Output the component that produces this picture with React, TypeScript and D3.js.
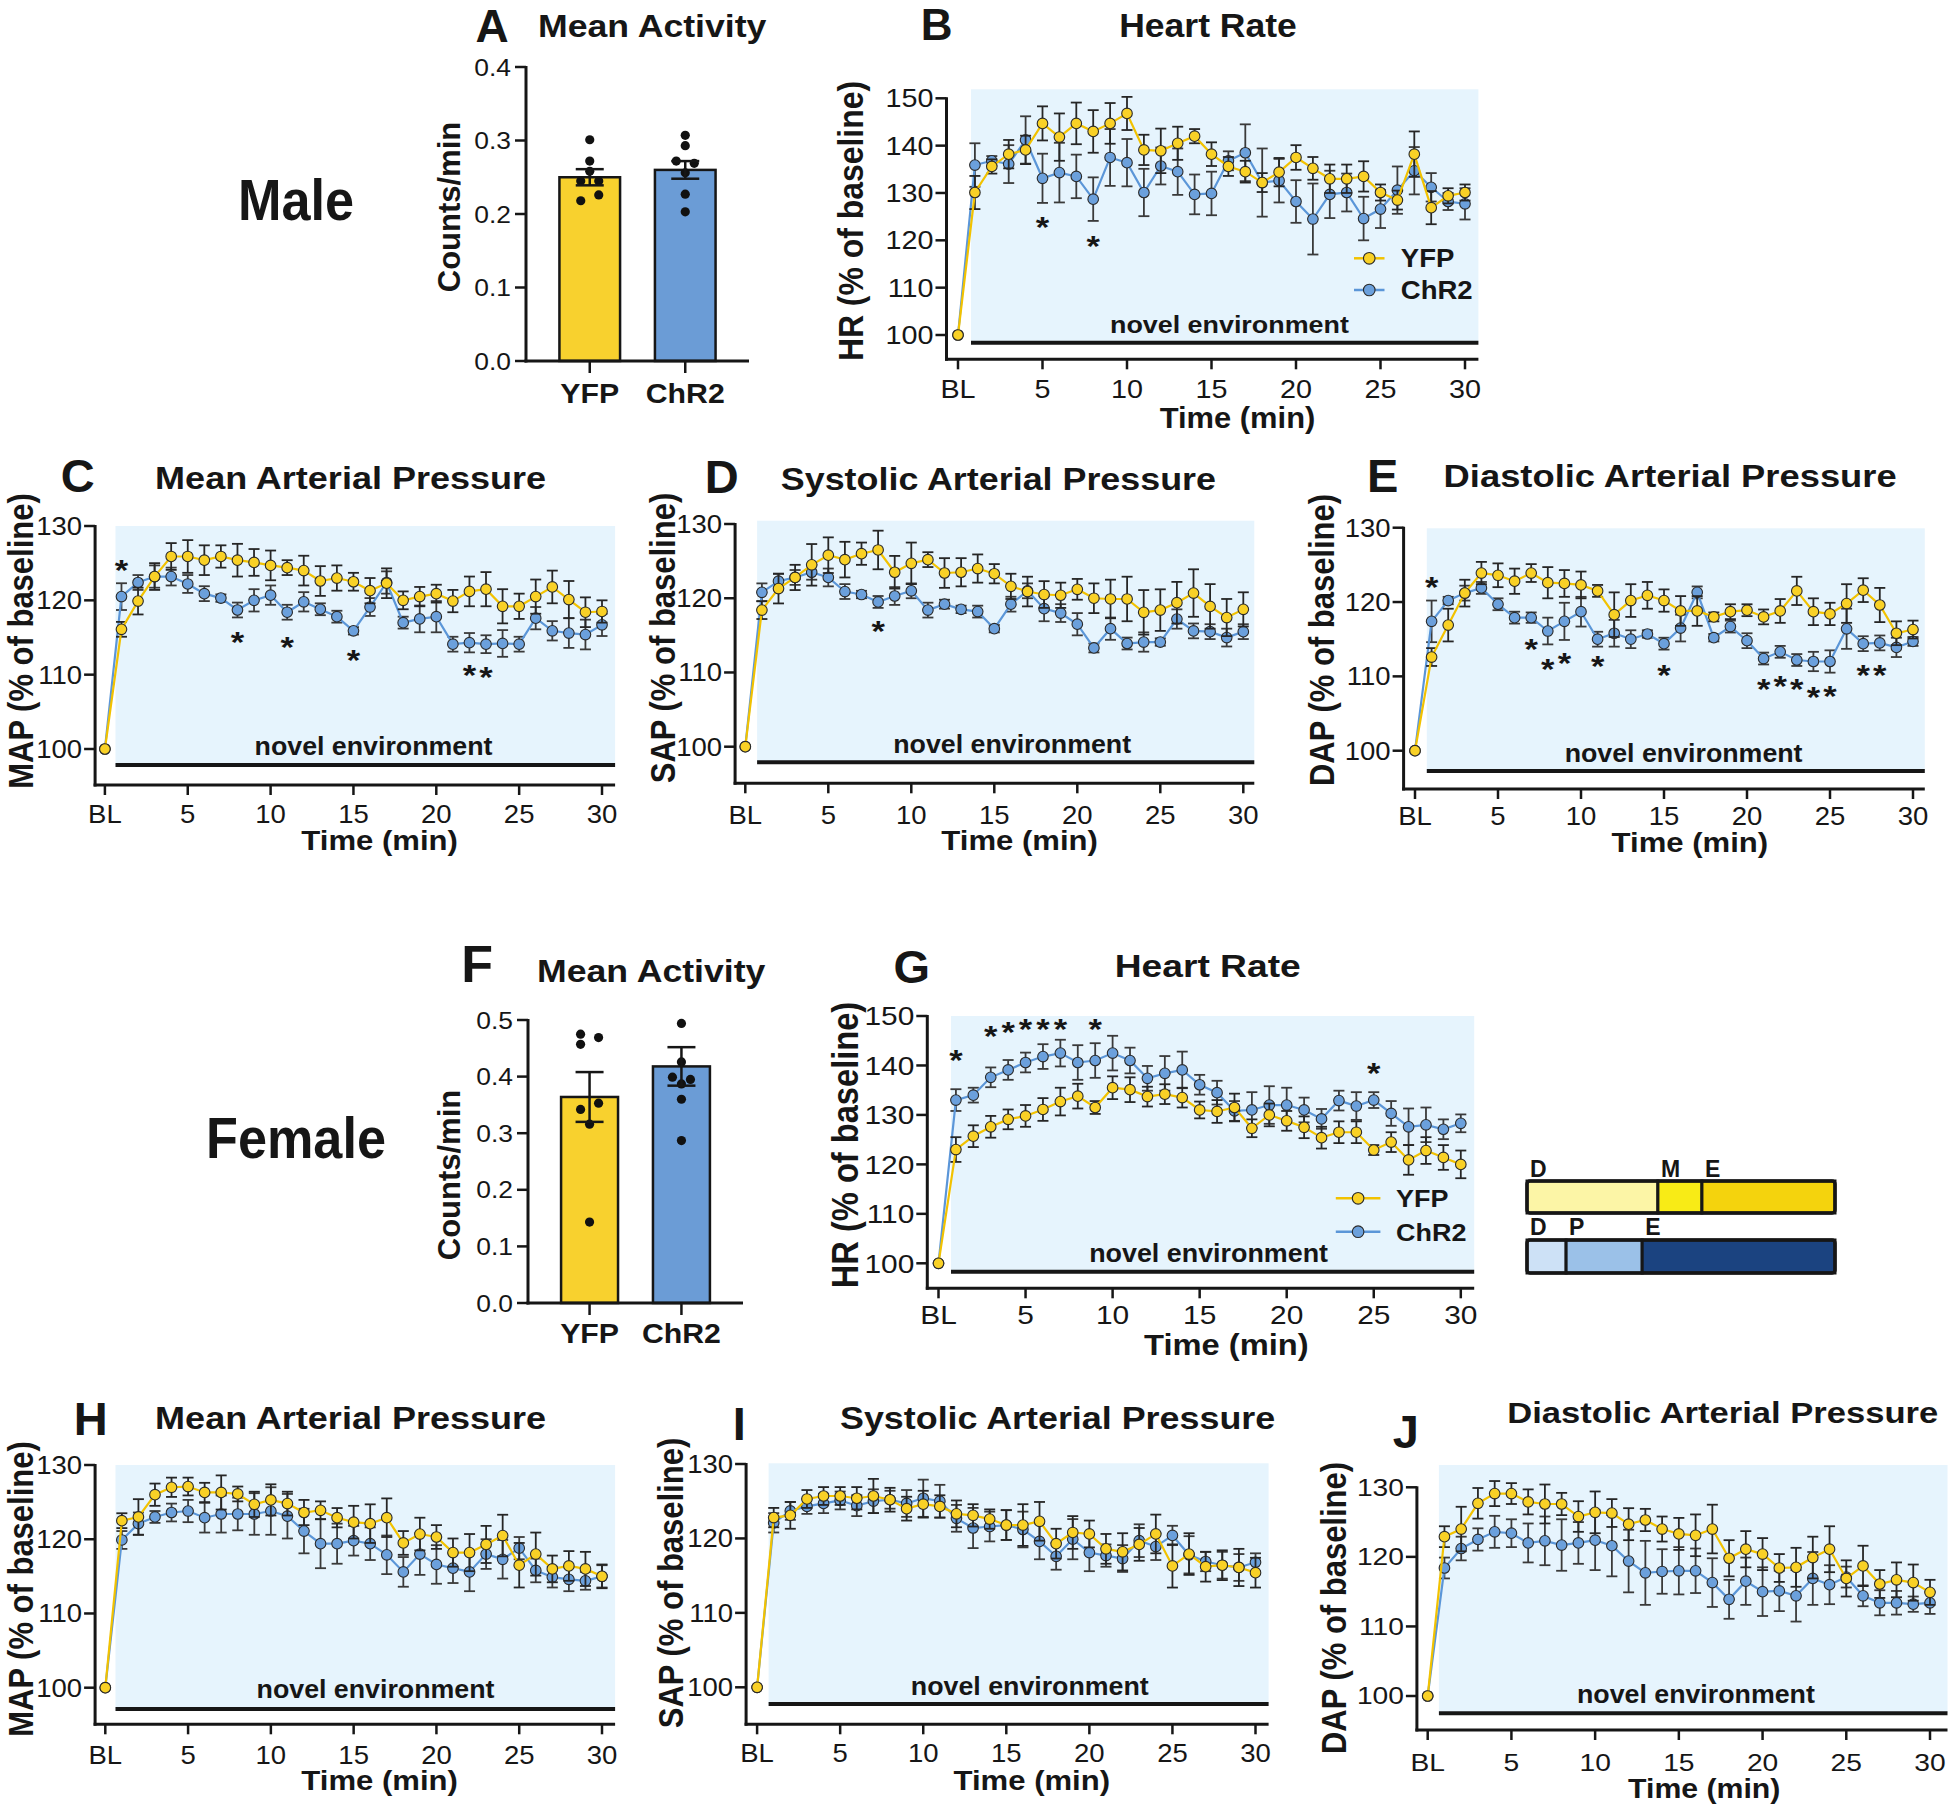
import React from 'react';
import * as d3 from 'd3';

const FONT = "'Liberation Sans', Arial, Helvetica, sans-serif";
const INK = '#161616';
const SHADE = '#E6F4FD';
const YFP_LINE = '#F2C200';
const YFP_FILL = '#F9D126';
const CHR_LINE = '#5B96D8';
const CHR_FILL = '#6BA0DC';
const YFP_BAR = '#F8D12E';
const CHR_BAR = '#6B9CD6';

// ---------- categories / ticks ----------
const MINUTES = d3.range(0, 31); // 0 = BL
const X_TICKS = [0, 5, 10, 15, 20, 25, 30];
const X_TICK_LABELS = ['BL', '5', '10', '15', '20', '25', '30'];
const HR_TICKS = [100, 110, 120, 130, 140, 150];
const BP_TICKS = [100, 110, 120, 130];
const GROUPS = ['YFP', 'ChR2'];

// ---------- Male activity (A) ----------
const A_TICKS = [0, 0.1, 0.2, 0.3, 0.4];
const A_MEANS = [0.25, 0.26];
const A_SEMS = [0.011, 0.012];
const A_YFP_DOTS = [0.301, 0.272, 0.258, 0.245, 0.245, 0.226, 0.218];
const A_CHR_DOTS = [0.307, 0.293, 0.272, 0.269, 0.256, 0.227, 0.203];

// ---------- Female activity (F) ----------
const F_TICKS = [0, 0.1, 0.2, 0.3, 0.4, 0.5];
const F_MEANS = [0.364, 0.418];
const F_SEMS = [0.044, 0.034];
const F_YFP_DOTS = [0.475, 0.457, 0.469, 0.342, 0.353, 0.316, 0.143];
const F_CHR_DOTS = [0.494, 0.426, 0.399, 0.395, 0.387, 0.36, 0.287];

// ---------- Male HR (B) ----------
const M_HR_YFP = [100, 130.1, 135.6, 138.2, 139.1, 144.7, 141.8, 144.7, 143.0, 144.7, 146.8, 139.1, 138.9, 140.5, 142.0, 138.2, 135.6, 134.5, 132.2, 134.4, 137.5, 135.2, 133.0, 133.0, 133.5, 130.1, 128.5, 138.2, 126.9, 129.4, 130.1];
const M_HR_YFP_ERR = [0, 3.5, 1.5, 3, 3, 3.6, 5, 4.4, 4.5, 4.3, 3.5, 3.2, 4.7, 3.5, 1.5, 2.5, 2, 2.3, 2, 3, 2.6, 2.4, 3, 3, 3.2, 1.7, 2, 4.8, 3.5, 1.6, 1.7];
const M_HR_CHR = [100, 135.9, 136.8, 136.1, 141.2, 133.1, 134.3, 133.5, 128.7, 137.5, 136.4, 130.1, 135.7, 134.5, 129.7, 129.9, 136.8, 138.5, 132.2, 132.6, 128.2, 124.5, 129.7, 130.1, 124.6, 126.6, 130.6, 134.7, 131.2, 128.2, 127.7];
const M_HR_CHR_ERR = [0, 4.6, 1, 4, 5, 5.2, 6.3, 4.6, 4.6, 6, 5, 5, 3.9, 4.9, 4.2, 4.6, 2, 6, 7.2, 4.6, 4.5, 7.5, 5, 4, 4.6, 4, 5, 5, 3, 1.8, 3.3];
const M_HR_STARS: [number, number][] = [[5, 124.3], [8, 120.4]];

// ---------- Male MAP (C) ----------
const M_MAP_YFP = [100, 116.1, 119.9, 123.2, 125.9, 125.9, 125.4, 125.9, 125.4, 125.1, 124.7, 124.4, 124.0, 122.6, 123.0, 122.5, 121.3, 122.3, 120.0, 120.5, 120.9, 119.9, 121.2, 121.5, 119.2, 119.2, 120.5, 121.8, 120.1, 118.4, 118.5];
const M_MAP_YFP_ERR = [0, 1, 1.8, 1.8, 1.8, 2.2, 2, 1.5, 2.2, 1.8, 2, 1, 2, 2, 1.7, 1.2, 1.7, 2, 1.2, 1.3, 1.2, 1.5, 2, 2.3, 2.3, 1.7, 2.3, 2.2, 2.5, 2, 1.5];
const M_MAP_CHR = [100, 120.5, 122.4, 123.2, 123.2, 122.2, 120.9, 120.3, 118.7, 120.0, 120.7, 118.4, 119.8, 118.8, 117.8, 115.9, 119.1, 122.4, 117.0, 117.5, 117.8, 114.1, 114.3, 114.1, 114.2, 114.1, 117.6, 115.9, 115.6, 115.4, 116.7];
const M_MAP_CHR_ERR = [0, 1.8, 1, 1.5, 1.2, 1.2, 1, 0.5, 1, 1.5, 1.3, 1, 1.3, 0.8, 0.8, 0.5, 1.2, 1.5, 0.8, 1.8, 2.1, 1, 1.3, 1.2, 1.8, 1, 1.5, 1.3, 2, 2, 1.5];
const M_MAP_STARS: [number, number][] = [[1, 125.0], [8, 115.4], [11, 114.7], [15, 112.9], [22, 110.9], [23, 110.6]];

// ---------- Male SAP (D) ----------
const M_SAP_YFP = [100, 118.4, 121.3, 122.8, 124.5, 125.8, 125.2, 126.0, 126.5, 123.5, 124.7, 125.2, 123.4, 123.5, 124.0, 123.3, 121.6, 120.9, 120.5, 120.4, 121.2, 120.0, 119.9, 119.9, 118.1, 118.4, 119.4, 120.7, 118.9, 117.4, 118.5];
const M_SAP_YFP_ERR = [0, 1.2, 2, 1.7, 2.8, 2.4, 2.4, 1.5, 2.6, 2.2, 2.8, 1, 2, 1.9, 1.9, 1.3, 1.7, 2, 1.8, 1.7, 1.4, 2, 2.6, 3, 3, 2.8, 2.8, 3.2, 3, 2.5, 2.3];
const M_SAP_CHR = [100, 120.8, 122.3, 122.8, 123.5, 122.8, 120.9, 120.5, 119.5, 120.3, 121.0, 118.4, 119.2, 118.5, 118.2, 115.9, 119.2, 121.0, 118.6, 118.0, 116.5, 113.3, 115.9, 113.9, 114.1, 114.1, 117.2, 115.6, 115.5, 114.7, 115.5];
const M_SAP_CHR_ERR = [0, 1.2, 1, 1, 1, 1.2, 1, 0.5, 0.8, 1.2, 1, 1, 0.6, 0.5, 0.8, 0.5, 1, 1, 1.7, 1.2, 1.5, 0.6, 1.5, 0.8, 1.3, 0.5, 1.3, 1, 1, 1.2, 1];
const M_SAP_STARS: [number, number][] = [[8, 116.6]];

// ---------- Male DAP (E) ----------
const M_DAP_YFP = [100, 112.6, 116.9, 121.2, 123.9, 123.6, 122.8, 123.9, 122.6, 122.5, 122.3, 121.5, 118.3, 120.2, 120.9, 120.2, 118.8, 118.8, 118.0, 118.7, 118.9, 118.0, 118.8, 121.5, 118.7, 118.4, 119.8, 121.6, 119.6, 115.8, 116.3];
const M_DAP_YFP_ERR = [0, 1.2, 2.2, 1.8, 1.5, 1.6, 1.7, 1.2, 2.1, 1.8, 1.8, 0.8, 3, 2.2, 1.8, 1.5, 2, 2, 0.6, 1, 0.8, 1, 1.6, 1.9, 1.8, 1.5, 2.6, 1.6, 2.3, 1.6, 1.2];
const M_DAP_CHR = [100, 117.4, 120.2, 121.2, 121.9, 119.7, 117.9, 117.9, 116.1, 117.4, 118.7, 115.0, 115.8, 115.0, 115.7, 114.4, 116.5, 121.3, 115.2, 116.7, 114.8, 112.4, 113.3, 112.2, 112.0, 112.0, 116.4, 114.4, 114.5, 113.9, 114.7];
const M_DAP_CHR_ERR = [0, 2.8, 0.5, 1, 0.8, 0.8, 0.8, 0.7, 1.8, 2.5, 2, 1, 1.8, 1.2, 0.5, 0.8, 1.8, 0.8, 0.5, 0.8, 1, 0.8, 0.8, 0.8, 1.3, 1.5, 2.7, 1, 1, 1.3, 0.6];
const M_DAP_STARS: [number, number][] = [[1, 123.0], [7, 114.6], [8, 112.0], [9, 112.7], [11, 112.3], [15, 111.1], [21, 109.3], [22, 109.7], [23, 109.3], [24, 108.2], [25, 108.3], [27, 111.1], [28, 111.1]];

// ---------- Female HR (G) ----------
const F_HR_YFP = [100, 123.0, 125.7, 127.6, 129.1, 129.8, 131.1, 132.7, 133.8, 131.5, 135.5, 135.1, 133.7, 134.2, 133.5, 131.0, 130.7, 131.5, 127.3, 130.0, 128.8, 127.5, 125.4, 126.5, 126.5, 122.9, 124.5, 120.9, 122.8, 121.4, 120.0];
const F_HR_YFP_ERR = [0, 2.5, 2.2, 2.2, 2, 2.2, 2.3, 2.8, 2.5, 1.3, 2.3, 2.5, 2, 2, 2, 1.7, 2.3, 2.8, 1.8, 2.3, 2, 2.2, 2.2, 2.2, 2.2, 1, 2, 3, 2.7, 2.5, 2.8];
const F_HR_CHR = [100, 133.0, 134.0, 137.6, 139.1, 140.6, 141.8, 142.5, 140.6, 141.0, 142.5, 141.0, 137.4, 138.4, 139.1, 136.1, 134.5, 130.8, 131.0, 132.0, 132.0, 131.0, 129.2, 132.9, 131.8, 133.0, 130.3, 127.6, 128.0, 127.1, 128.3];
const F_HR_CHR_ERR = [0, 2.2, 1.5, 2, 2, 2, 2.5, 2.7, 3.5, 3.5, 3.5, 2.6, 2.5, 3.5, 3.7, 2, 2.4, 2, 3.6, 3.8, 3.5, 2.5, 2, 2, 2.8, 1.6, 2.5, 3.7, 3.5, 2, 1.8];
const F_HR_STARS: [number, number][] = [[1, 142.6], [3, 147.3], [4, 148.2], [5, 148.9], [6, 148.9], [7, 148.9], [9, 148.9], [25, 139.9]];

// ---------- Female MAP (H) ----------
const F_MAP_YFP = [100, 122.5, 123.0, 126.0, 127.0, 127.1, 126.3, 126.3, 126.1, 124.7, 125.3, 124.8, 123.6, 123.9, 122.9, 122.3, 122.1, 122.9, 119.5, 120.7, 120.3, 118.2, 118.2, 119.3, 120.5, 116.5, 118.0, 116.0, 116.4, 116.0, 115.0];
const F_MAP_YFP_ERR = [0, 1, 2.4, 1.5, 1.3, 1.2, 1.3, 2.3, 1, 1.7, 2.1, 1.6, 1.7, 1.2, 1.3, 2.2, 2.6, 2.6, 1.6, 2.2, 1.6, 1.9, 2.5, 2.5, 2.8, 3, 2.9, 1.8, 2, 2.3, 1.6];
const F_MAP_CHR = [100, 119.9, 122.1, 123.0, 123.6, 123.8, 122.9, 123.4, 123.4, 123.4, 123.8, 123.1, 121.1, 119.4, 119.4, 119.8, 119.4, 117.9, 115.6, 118.0, 116.6, 116.1, 115.6, 118.0, 117.3, 118.8, 115.8, 114.9, 114.6, 114.4, 115.0];
const F_MAP_CHR_ERR = [0, 1.2, 1.5, 0.8, 1.2, 1.5, 2, 2.5, 2.2, 2.8, 3.2, 3, 3, 3.3, 2.7, 2, 2.2, 2.6, 2, 2.8, 2.6, 2, 2.6, 2, 2.6, 1.5, 1.6, 1.4, 1.6, 1.2, 1.5];

// ---------- Female SAP (I) ----------
const F_SAP_YFP = [100, 122.8, 123.1, 125.3, 125.7, 125.7, 125.4, 125.7, 125.2, 124.0, 124.6, 124.3, 123.3, 123.1, 122.6, 121.8, 121.8, 122.3, 119.3, 120.8, 120.6, 118.6, 118.2, 119.2, 120.6, 116.3, 117.9, 116.2, 116.4, 116.1, 115.4];
const F_SAP_YFP_ERR = [0, 1.3, 1.8, 1.2, 1.2, 1.2, 1.5, 2.3, 1.6, 1.6, 1.8, 1.5, 1.8, 1.5, 1.3, 2, 2.8, 2.6, 2, 2.2, 1.8, 2, 2.5, 2.2, 2.6, 2.9, 2.8, 2, 2, 2.5, 2];
const F_SAP_CHR = [100, 122.1, 123.7, 124.3, 124.7, 125.1, 124.4, 125.0, 125.2, 124.7, 125.4, 125.0, 122.7, 121.4, 121.6, 121.8, 121.2, 119.6, 117.6, 119.9, 118.1, 117.7, 117.3, 119.7, 118.9, 120.4, 117.8, 116.9, 116.4, 116.1, 116.8];
const F_SAP_CHR_ERR = [0, 1.3, 1.2, 1, 1.3, 1.2, 1.4, 1.6, 1.2, 1.8, 2.5, 2.2, 1.8, 2.7, 2, 2, 2.4, 2.4, 1.8, 2.7, 2.5, 1.5, 1.8, 2.2, 1.8, 1.3, 2.5, 1.3, 1.8, 1.8, 1.2];

// ---------- Female DAP (J) ----------
const F_DAP_YFP = [100, 122.9, 124.0, 127.7, 129.1, 129.1, 127.9, 127.6, 127.6, 125.8, 126.4, 126.3, 124.7, 125.3, 124.0, 123.3, 123.1, 124.0, 119.8, 121.1, 120.4, 118.4, 118.5, 119.9, 121.1, 116.9, 118.7, 116.1, 116.7, 116.3, 114.9];
const F_DAP_YFP_ERR = [0, 1.5, 3.2, 2.2, 1.8, 1.5, 1.8, 2.8, 1.6, 2.2, 3, 2, 2.3, 1.6, 1.8, 2.3, 3, 3.5, 2.6, 2.6, 2.3, 2, 2.8, 3, 3.3, 2.6, 2.9, 2, 2.5, 2.6, 1.8];
const F_DAP_CHR = [100, 118.4, 121.2, 122.5, 123.6, 123.4, 122.0, 122.3, 121.7, 122.0, 122.4, 121.6, 119.4, 117.7, 117.9, 118.0, 118.0, 116.3, 113.9, 116.5, 115.0, 115.1, 114.4, 116.9, 116.0, 117.1, 114.4, 113.4, 113.4, 113.2, 113.4];
const F_DAP_CHR_ERR = [0, 1.5, 1.7, 1.6, 2.3, 2, 2.8, 3.5, 3.7, 3, 4.3, 4.4, 4.5, 4.6, 3.2, 3.4, 3.2, 3.5, 2.8, 3.4, 3.5, 2.9, 3.7, 3.8, 2.8, 1.5, 1.5, 1.8, 1.7, 1.1, 1.6];

// ---------- Phase key ----------
const YFP_PHASES = ['D', 'M', 'E'];
const YFP_PHASE_FRAC = [0.425, 0.143, 0.432];
const CHR_PHASES = ['D', 'P', 'E'];
const CHR_PHASE_FRAC = [0.127, 0.247, 0.626];
const YFP_PHASE_COLORS = ['#FCF5A6', '#F8EB16', '#F4D30D'];
const CHR_PHASE_COLORS = ['#CDE1F6', '#9BC1E8', '#1B4380'];

// ---------- text helper ----------
function T({ x, y, size, sx = 1, sy = 1, anchor = 'start', bold = false, rot = 0, fill = INK, children }: any) {
  return (
    <text
      transform={`translate(${x},${y}) rotate(${rot}) scale(${sx},${sy})`}
      fontFamily={FONT}
      fontSize={size}
      fontWeight={bold ? 700 : 400}
      textAnchor={anchor}
      fill={fill}
    >
      {children}
    </text>
  );
}

const DEF = {
  tickSize: 25, tickSx: 1.1, tickLen: 11, xLabOff: 38,
  envSize: 25.5, envSx: 1.05,
  titleSize: 31.6, titleSx: 1.14, letterSize: 47,
  yLabSize: 31, yLabSx: 1.0, yLabSy: 1.15,
  timeSize: 28, timeSx: 1.11,
  r: 5.3, cap: 5.5, starSize: 30, starSx: 1.15,
  legend: null as any,
};

const L_B = { ...DEF, x0: 958, x30: 1465, axisX: 946.5, p100: 335, pTop: 98.3, yTop: 150, axisBottom: 359.3, shadeL: 971, shadeR: 1478.4, shadeTop: 89.3, envY: 342.7, env: [1229.4, 333], envSize: 24, envSx: 1.12, letter: [936.7, 40], letterSize: 44, title: [1208, 36.7, 'middle'], titleSize: 32.6, titleSx: 1.09, yLab: [863, 221], yLabSx: 1.03, tickSize: 25, tickSx: 1.15, xLabOff: 39, time: [1237.5, 428], timeSize: 30, timeSx: 1.03, legend: { x1: 1354, x2: 1384.5, tx: 1400.8, y1: 258.3, y2: 290, size: 25.5, sx: 1.08 } };
const L_C = { ...DEF, x0: 104.9, x30: 602, axisX: 95.1, p100: 749, pTop: 526, yTop: 130, axisBottom: 785, shadeL: 115.5, shadeR: 615.1, shadeTop: 526, envY: 765, env: [373.5, 755], letter: [77.6, 491.7], title: [155.1, 489.3, 'start'], yLab: [32.7, 641], time: [379.6, 850], xLabOff: 38 };
const L_D = { ...DEF, x0: 745.3, x30: 1243.3, axisX: 735.1, p100: 746.7, pTop: 524, yTop: 130, axisBottom: 783.3, shadeL: 757.1, shadeR: 1254.3, shadeTop: 520.7, envY: 762.3, env: [1012.2, 753.3], letter: [721.6, 493.3], title: [780.8, 490, 'start'], titleSx: 1.135, yLab: [674.7, 638], time: [1019.6, 850], xLabOff: 41 };
const L_E = { ...DEF, x0: 1415, x30: 1913, axisX: 1403.6, p100: 750.7, pTop: 527.7, yTop: 130, axisBottom: 789, shadeL: 1426.8, shadeR: 1924.8, shadeTop: 528.3, envY: 771, env: [1683.6, 761.7], letter: [1382.6, 491.7], title: [1443.6, 487.3, 'start'], titleSx: 1.15, yLab: [1334.2, 640], time: [1689.9, 851.7], xLabOff: 36 };
const L_G = { ...DEF, x0: 938.5, x30: 1460.8, axisX: 927.3, p100: 1263.3, pTop: 1016, yTop: 150, axisBottom: 1288.3, shadeL: 951, shadeR: 1474.2, shadeTop: 1016, envY: 1271.7, env: [1208.6, 1261.7], envSize: 25.6, envSx: 1.05, letter: [911.7, 983.3], title: [1207.7, 976.7, 'middle'], titleSize: 31, titleSx: 1.2, yLab: [858.1, 1145], yLabSize: 32, yLabSx: 1.02, tickSize: 26, tickSx: 1.15, xLabOff: 36, time: [1226.4, 1355], timeSize: 30, timeSx: 1.09, legend: { x1: 1335.8, x2: 1380.4, tx: 1396.1, y1: 1198.3, y2: 1231.7, size: 24.5, sx: 1.1 } };
const L_H = { ...DEF, x0: 105.3, x30: 602, axisX: 95.1, p100: 1687.7, pTop: 1465, yTop: 130, axisBottom: 1724.3, shadeL: 115.5, shadeR: 615.1, shadeTop: 1465, envY: 1709, env: [375.5, 1698.3], letter: [90.6, 1435], title: [155.1, 1429.3, 'start'], yLab: [32.7, 1589], time: [379.6, 1790], xLabOff: 40 };
const L_I = { ...DEF, x0: 757.1, x30: 1255.5, axisX: 746.1, p100: 1687.3, pTop: 1464, yTop: 130, axisBottom: 1724.3, shadeL: 768.6, shadeR: 1268.6, shadeTop: 1463.3, envY: 1704, env: [1029.8, 1695], letter: [739.2, 1440], title: [840, 1429.3, 'start'], titleSx: 1.135, yLab: [682.9, 1583], time: [1031.8, 1790], xLabOff: 38 };
const L_J = { ...DEF, x0: 1427.7, x30: 1930, axisX: 1416.9, p100: 1696, pTop: 1487.3, yTop: 130, axisBottom: 1730, shadeL: 1438.9, shadeR: 1947.5, shadeTop: 1465, envY: 1713.3, env: [1695.9, 1703.3], letter: [1405.7, 1448.3], title: [1507.3, 1422.7, 'start'], titleSize: 29.3, titleSx: 1.18, yLab: [1345.6, 1608], tickSize: 23.5, tickSx: 1.2, xLabOff: 41, time: [1704.2, 1798.3], timeSx: 1.08 };

function LinePanel({ c, letter, title, yLabel, yfp, yfpErr, chr, chrErr, stars = [] }: any) {
  const x = d3.scaleLinear().domain([0, 30]).range([c.x0, c.x30]);
  const y = d3.scaleLinear().domain([100, c.yTop]).range([c.p100, c.pTop]);
  const ticks = c.yTop === 150 ? HR_TICKS : BP_TICKS;
  const line = d3.line<number>().x((_: number, i: number) => x(MINUTES[i])).y((d: number) => y(d));
  const series = [
    { vals: chr, err: chrErr, stroke: CHR_LINE, fill: CHR_FILL, eb: '#3a3a3a' },
    { vals: yfp, err: yfpErr, stroke: YFP_LINE, fill: YFP_FILL, eb: '#262626' },
  ];
  return (
    <g>
      <rect x={c.shadeL} y={c.shadeTop} width={c.shadeR - c.shadeL} height={c.envY - c.shadeTop} fill={SHADE} />
      <line x1={c.shadeL} x2={c.shadeR} y1={c.envY} y2={c.envY} stroke={INK} strokeWidth={4} />
      <T x={c.env[0]} y={c.env[1]} size={c.envSize} sx={c.envSx} anchor="middle" bold>novel environment</T>
      {/* axes */}
      <line x1={c.axisX} x2={c.axisX} y1={y(c.yTop) - 1} y2={c.axisBottom + 1.5} stroke={INK} strokeWidth={3} />
      <line x1={c.axisX - 1.5} x2={c.shadeR} y1={c.axisBottom} y2={c.axisBottom} stroke={INK} strokeWidth={3} />
      {ticks.map((t: number) => (
        <g key={'yt' + t}>
          <line x1={c.axisX - c.tickLen} x2={c.axisX} y1={y(t)} y2={y(t)} stroke={INK} strokeWidth={2.5} />
          <T x={c.axisX - c.tickLen - 2} y={y(t) + c.tickSize * 0.36} size={c.tickSize} sx={c.tickSx} anchor="end">{String(t)}</T>
        </g>
      ))}
      {X_TICKS.map((t, i) => (
        <g key={'xt' + t}>
          <line x1={x(t)} x2={x(t)} y1={c.axisBottom} y2={c.axisBottom + 10} stroke={INK} strokeWidth={2.5} />
          <T x={x(t)} y={c.axisBottom + c.xLabOff} size={c.tickSize} sx={c.tickSx} anchor="middle">{X_TICK_LABELS[i]}</T>
        </g>
      ))}
      {/* series */}
      {series.map((s, si) => (
        <g key={'s' + si}>
          {s.vals.map((v: number, i: number) =>
            s.err[i] > 0 ? (
              <g key={'e' + i} stroke={s.eb} strokeWidth={1.8}>
                <line x1={x(MINUTES[i])} x2={x(MINUTES[i])} y1={y(v - s.err[i])} y2={y(v + s.err[i])} />
                <line x1={x(MINUTES[i]) - c.cap} x2={x(MINUTES[i]) + c.cap} y1={y(v - s.err[i])} y2={y(v - s.err[i])} />
                <line x1={x(MINUTES[i]) - c.cap} x2={x(MINUTES[i]) + c.cap} y1={y(v + s.err[i])} y2={y(v + s.err[i])} />
              </g>
            ) : null
          )}
          <path d={line(s.vals) || ''} fill="none" stroke={s.stroke} strokeWidth={2.2} />
          {s.vals.map((v: number, i: number) => (
            <circle key={'m' + i} cx={x(MINUTES[i])} cy={y(v)} r={c.r} fill={s.fill} stroke="#2a2a2a" strokeWidth={1.1} />
          ))}
        </g>
      ))}
      {stars.map((s: [number, number], i: number) => (
        <T key={'st' + i} x={x(s[0])} y={y(s[1]) + c.starSize * 0.57} size={c.starSize} sx={c.starSx} anchor="middle" bold>*</T>
      ))}
      {c.legend && (
        <g>
          {[
            { name: GROUPS[0], yy: c.legend.y1, stroke: YFP_LINE, fill: YFP_FILL },
            { name: GROUPS[1], yy: c.legend.y2, stroke: CHR_LINE, fill: CHR_FILL },
          ].map((l) => (
            <g key={l.name}>
              <line x1={c.legend.x1} x2={c.legend.x2} y1={l.yy} y2={l.yy} stroke={l.stroke} strokeWidth={2.5} />
              <circle cx={(c.legend.x1 + c.legend.x2) / 2} cy={l.yy} r={c.r + 0.5} fill={l.fill} stroke="#2a2a2a" strokeWidth={1.1} />
              <T x={c.legend.tx} y={l.yy + c.legend.size * 0.36} size={c.legend.size} sx={c.legend.sx} bold>{l.name}</T>
            </g>
          ))}
        </g>
      )}
      {/* titles */}
      <T x={c.letter[0]} y={c.letter[1]} size={c.letterSize} anchor="middle" bold>{letter}</T>
      <T x={c.title[0]} y={c.title[1]} size={c.titleSize} sx={c.titleSx} anchor={c.title[2]} bold>{title}</T>
      <T x={c.yLab[0]} y={c.yLab[1]} size={c.yLabSize} sx={c.yLabSx} sy={c.yLabSy} anchor="middle" rot={-90} bold>{yLabel}</T>
      <T x={c.time[0]} y={c.time[1]} size={c.timeSize} sx={c.timeSx} anchor="middle" bold>Time (min)</T>
    </g>
  );
}

const B_A = { axisX: 526, p0: 361, pTop: 67, yTop: 0.4, xRight: 749, pIn: 0.365, pOut: 0.35, letter: [492, 42], letterSize: 46, title: [538, 37], yLab: [460, 207], xLabY: 403, ticks: A_TICKS };
const B_F = { axisX: 528, p0: 1303, pTop: 1020, yTop: 0.5, xRight: 743, pIn: 0.38, pOut: 0.36, letter: [477, 982], letterSize: 52, title: [537, 982], yLab: [460, 1175], xLabY: 1343, ticks: F_TICKS };
const DOT_JITTER_A = [[0, 0, 0, -1, 1, 1, -1], [0, 0, -1, 1, 0, 0, 0]];
const DOT_JITTER_F = [[-1, -1, 1, -1, 1, 0, 0], [0, 0, -1, 1, 0, 0, 0]];

function BarPanel({ c, letter, means, sems, dots, jitter }: any) {
  const x = d3.scaleBand().domain(GROUPS).range([c.axisX, c.xRight]).paddingInner(c.pIn).paddingOuter(c.pOut);
  const y = d3.scaleLinear().domain([0, c.yTop]).range([c.p0, c.pTop]);
  const fills = [YFP_BAR, CHR_BAR];
  return (
    <g>
      {GROUPS.map((g, i) => {
        const cx = (x(g) as number) + x.bandwidth() / 2;
        return (
          <g key={g}>
            <rect x={x(g)} y={y(means[i])} width={x.bandwidth()} height={c.p0 - y(means[i])} fill={fills[i]} stroke={INK} strokeWidth={2.5} />
            {dots[i].map((v: number, j: number) => (
              <circle key={j} cx={cx + jitter[i][j] * 9} cy={y(v)} r={4.6} fill="#111" />
            ))}
            <g stroke={INK} strokeWidth={2.5}>
              <line x1={cx} x2={cx} y1={y(means[i] - sems[i])} y2={y(means[i] + sems[i])} />
              <line x1={cx - 14} x2={cx + 14} y1={y(means[i] + sems[i])} y2={y(means[i] + sems[i])} />
              <line x1={cx - 14} x2={cx + 14} y1={y(means[i] - sems[i])} y2={y(means[i] - sems[i])} />
            </g>
            <line x1={cx} x2={cx} y1={c.p0} y2={c.p0 + 12} stroke={INK} strokeWidth={2.5} />
            <T x={cx} y={c.xLabY} size={28} sx={1.08} anchor="middle" bold>{g}</T>
          </g>
        );
      })}
      <line x1={c.axisX} x2={c.axisX} y1={c.pTop - 1} y2={c.p0 + 1.5} stroke={INK} strokeWidth={3} />
      <line x1={c.axisX - 1.5} x2={c.xRight} y1={c.p0} y2={c.p0} stroke={INK} strokeWidth={3} />
      {c.ticks.map((t: number) => (
        <g key={t}>
          <line x1={c.axisX - 11} x2={c.axisX} y1={y(t)} y2={y(t)} stroke={INK} strokeWidth={2.5} />
          <T x={c.axisX - 15} y={y(t) + 8.5} size={24} sx={1.1} anchor="end">{d3.format('.1f')(t)}</T>
        </g>
      ))}
      <T x={c.letter[0]} y={c.letter[1]} size={c.letterSize} anchor="middle" bold>{letter}</T>
      <T x={c.title[0]} y={c.title[1]} size={31} sx={1.15} bold>Mean Activity</T>
      <T x={c.yLab[0]} y={c.yLab[1]} size={31} sx={1.0} anchor="middle" rot={-90} bold>Counts/min</T>
    </g>
  );
}

function PhaseKey() {
  const x = d3.scaleLinear().domain([0, 1]).range([1527, 1835]);
  const rows = [
    { labels: YFP_PHASES, frac: YFP_PHASE_FRAC, colors: YFP_PHASE_COLORS, top: 1181, h: 32, labY: 1177 },
    { labels: CHR_PHASES, frac: CHR_PHASE_FRAC, colors: CHR_PHASE_COLORS, top: 1240, h: 33, labY: 1235 },
  ];
  return (
    <g>
      {rows.map((r, ri) => {
        const cum = d3.cumsum([0, ...r.frac]);
        return (
          <g key={ri}>
            {r.labels.map((lab, i) => (
              <g key={i}>
                <rect x={x(cum[i])} y={r.top} width={x(cum[i + 1]) - x(cum[i])} height={r.h} fill={r.colors[i]} stroke={INK} strokeWidth={3} />
                <T x={x(cum[i]) + 3} y={r.labY} size={23} bold>{lab}</T>
              </g>
            ))}
            <rect x={x(0)} y={r.top} width={x(1) - x(0)} height={r.h} fill="none" stroke={INK} strokeWidth={3.5} rx={3} />
          </g>
        );
      })}
    </g>
  );
}

export default function App() {
  return (
    <div style={{ position: 'absolute', left: 0, top: 0 }}>
      <svg width={1950} height={1810} style={{ display: 'block', background: '#fff' }}>
        <rect x={0} y={0} width={1950} height={1810} fill="#fff" />
        <T x={296} y={220} size={58} sx={0.9} anchor="middle" bold>Male</T>
        <T x={296} y={1158} size={58} sx={0.9} anchor="middle" bold>Female</T>

        <BarPanel c={B_A} letter="A" means={A_MEANS} sems={A_SEMS} dots={[A_YFP_DOTS, A_CHR_DOTS]} jitter={DOT_JITTER_A} />
        <BarPanel c={B_F} letter="F" means={F_MEANS} sems={F_SEMS} dots={[F_YFP_DOTS, F_CHR_DOTS]} jitter={DOT_JITTER_F} />

        <LinePanel c={L_B} letter="B" title="Heart Rate" yLabel="HR (% of baseline)" yfp={M_HR_YFP} yfpErr={M_HR_YFP_ERR} chr={M_HR_CHR} chrErr={M_HR_CHR_ERR} stars={M_HR_STARS} />
        <LinePanel c={L_C} letter="C" title="Mean Arterial Pressure" yLabel="MAP (% of baseline)" yfp={M_MAP_YFP} yfpErr={M_MAP_YFP_ERR} chr={M_MAP_CHR} chrErr={M_MAP_CHR_ERR} stars={M_MAP_STARS} />
        <LinePanel c={L_D} letter="D" title="Systolic Arterial Pressure" yLabel="SAP (% of baseline)" yfp={M_SAP_YFP} yfpErr={M_SAP_YFP_ERR} chr={M_SAP_CHR} chrErr={M_SAP_CHR_ERR} stars={M_SAP_STARS} />
        <LinePanel c={L_E} letter="E" title="Diastolic Arterial Pressure" yLabel="DAP (% of baseline)" yfp={M_DAP_YFP} yfpErr={M_DAP_YFP_ERR} chr={M_DAP_CHR} chrErr={M_DAP_CHR_ERR} stars={M_DAP_STARS} />
        <LinePanel c={L_G} letter="G" title="Heart Rate" yLabel="HR (% of baseline)" yfp={F_HR_YFP} yfpErr={F_HR_YFP_ERR} chr={F_HR_CHR} chrErr={F_HR_CHR_ERR} stars={F_HR_STARS} />
        <LinePanel c={L_H} letter="H" title="Mean Arterial Pressure" yLabel="MAP (% of baseline)" yfp={F_MAP_YFP} yfpErr={F_MAP_YFP_ERR} chr={F_MAP_CHR} chrErr={F_MAP_CHR_ERR} />
        <LinePanel c={L_I} letter="I" title="Systolic Arterial Pressure" yLabel="SAP (% of baseline)" yfp={F_SAP_YFP} yfpErr={F_SAP_YFP_ERR} chr={F_SAP_CHR} chrErr={F_SAP_CHR_ERR} />
        <LinePanel c={L_J} letter="J" title="Diastolic Arterial Pressure" yLabel="DAP (% of baseline)" yfp={F_DAP_YFP} yfpErr={F_DAP_YFP_ERR} chr={F_DAP_CHR} chrErr={F_DAP_CHR_ERR} />

        <PhaseKey />
      </svg>
    </div>
  );
}
